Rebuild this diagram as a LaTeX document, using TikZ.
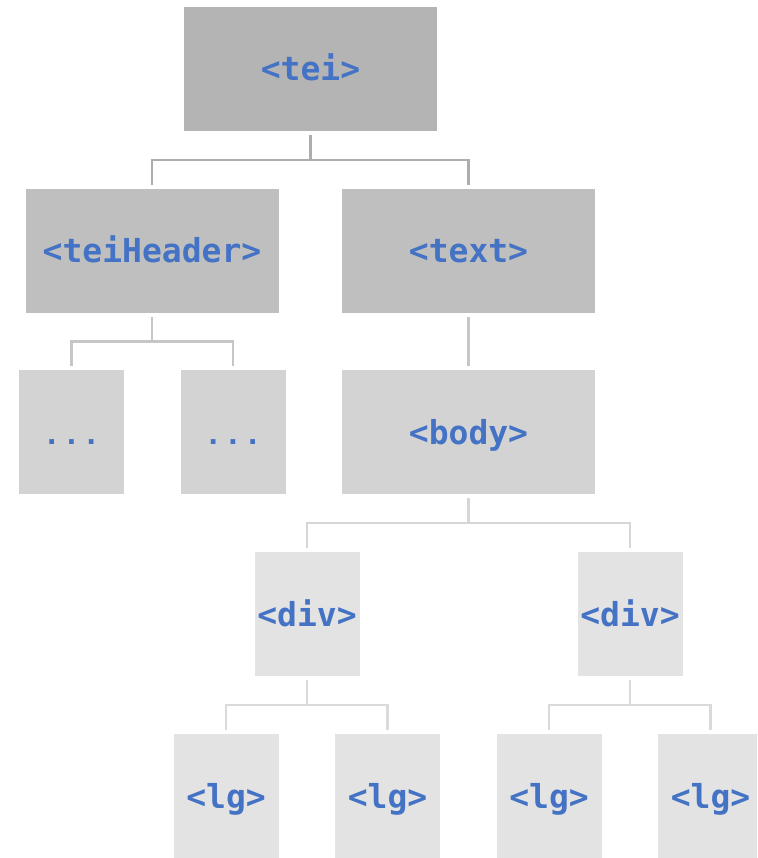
\documentclass[tikz,border=0pt]{standalone}
\usepackage{fontspec}
\setmonofont{DejaVu Sans Mono}
\newfontfamily\dotsfont{Liberation Mono}
\usetikzlibrary{calc}
\definecolor{tagblue}{HTML}{4472C4}
\definecolor{fillA}{HTML}{B4B4B4}
\definecolor{fillB}{HTML}{BFBFBF}
\definecolor{fillC}{HTML}{D3D3D3}
\definecolor{fillD}{HTML}{E3E3E3}
\definecolor{lineA}{HTML}{ADADAD}
\definecolor{lineB}{HTML}{C6C6C6}
\definecolor{lineC}{HTML}{D6D6D6}
\definecolor{lineD}{HTML}{DADADA}
\tikzset{
  x=1pt, y=-1pt,
  tag/.style={inner sep=0pt, minimum height=124pt, text=tagblue,
    text height=30pt, text depth=6pt,
    font=\fontsize{33}{33}\selectfont\ttfamily\bfseries},
  widebox/.style={tag, minimum width=253pt},
  narrowbox/.style={tag, minimum width=105pt},
  conn/.style={line width=2.6pt}
}
% elbow connector: down from parent, across, down to child
\newcommand\treelink[3]{%
  \draw[conn,#1] ([yshift=-4pt]#2.south)
    -- ($(#2.south)!.5!(#2.south|-#3.north)$)
    -| ([yshift=4pt]#3.north);}
\begin{document}
\begin{tikzpicture}
\clip (0,0) rectangle (757,858);
% boxes
\node[widebox, fill=fillA] (tei) at (310.5,69) {<tei>};
\node[widebox, fill=fillB] (hdr) at (152,251) {<teiHeader>};
\node[widebox, fill=fillB] (txt) at (468.5,251) {<text>};
\node[narrowbox, fill=fillC] (dotsA) at (71.5,432) {{\dotsfont\bfseries ...}};
\node[narrowbox, fill=fillC] (dotsB) at (233,432) {{\dotsfont\bfseries ...}};
\node[widebox, fill=fillC] (body) at (468.5,432) {<body>};
\node[narrowbox, fill=fillD] (divA) at (307,614) {<div>};
\node[narrowbox, fill=fillD] (divB) at (630,614) {<div>};
\node[narrowbox, fill=fillD] (lgA) at (226,796) {<lg>};
\node[narrowbox, fill=fillD] (lgB) at (387.5,796) {<lg>};
\node[narrowbox, fill=fillD] (lgC) at (549,796) {<lg>};
\node[narrowbox, fill=fillD] (lgD) at (710.5,796) {<lg>};
% connectors
\treelink{lineA}{tei}{hdr}
\treelink{lineA}{tei}{txt}
\treelink{lineB}{hdr}{dotsA}
\treelink{lineB}{hdr}{dotsB}
\treelink{lineB}{txt}{body}
\treelink{lineC}{body}{divA}
\treelink{lineC}{body}{divB}
\treelink{lineD}{divA}{lgA}
\treelink{lineD}{divA}{lgB}
\treelink{lineD}{divB}{lgC}
\treelink{lineD}{divB}{lgD}
\end{tikzpicture}
\end{document}
